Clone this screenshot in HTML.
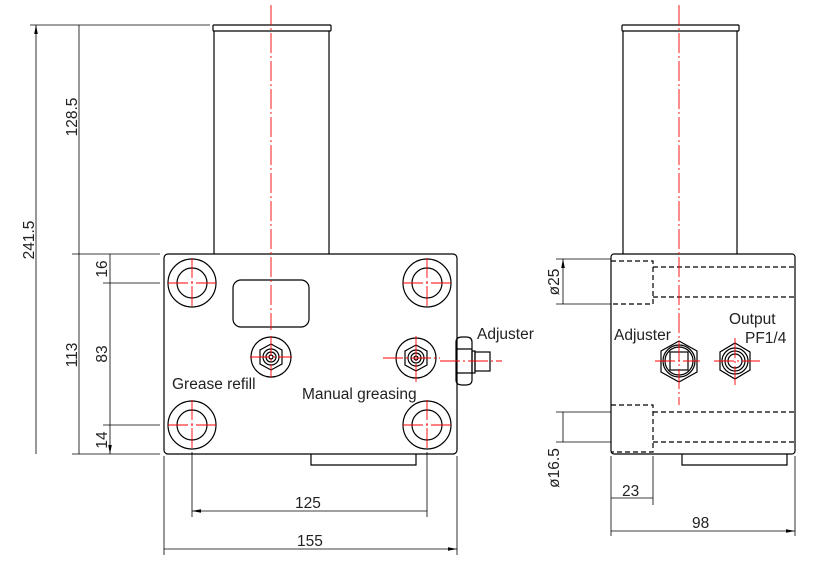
<!DOCTYPE html><html><head><style>body{margin:0;background:#fff}svg{display:block}text{font-family:"Liberation Sans",sans-serif;fill:#222}</style></head><body>
<svg width="820" height="578" viewBox="0 0 820 578" xmlns="http://www.w3.org/2000/svg">
<defs><marker id="a" viewBox="0 0 10 10" refX="10" refY="5" markerUnits="userSpaceOnUse" markerWidth="9" markerHeight="9" orient="auto-start-reverse"><path d="M0,3L10,5L0,7z" fill="#000"/></marker></defs>
<g stroke="#000" stroke-width="1.2" fill="none">
<rect x="213" y="25" width="118" height="6" rx="1"/>
<path d="M214,31V254M329,31V254"/>
<rect x="164" y="254" width="293" height="200" rx="4"/>
<rect x="233" y="280" width="76" height="47" rx="8"/>
<path d="M311,454V465H416V454"/>
<g id="h"><circle cx="192" cy="283" r="24"/><circle cx="192" cy="283" r="15"/></g>
<use href="#h" x="235"/><use href="#h" y="142"/><use href="#h" x="235" y="142"/>
<circle cx="271" cy="357" r="20"/><polygon points="271,344 282,350 282,364 271,370 260,364 260,350"/><circle cx="271" cy="357" r="8"/><circle cx="271" cy="357" r="5"/><circle cx="271" cy="357" r="2"/>
<circle cx="416" cy="358" r="20"/><polygon points="416,345 427,351 427,365 416,371 405,365 405,351"/><circle cx="416" cy="358" r="8"/><circle cx="416" cy="358" r="5"/><circle cx="416" cy="358" r="2"/>
<path d="M456,342Q456,337 462,337H466Q472,337 472,342V380Q472,385 466,385H462Q456,385 456,380Z M456,349H472M456,373H472"/>
<rect x="472" y="351" width="3" height="22"/><rect x="475" y="352" width="15" height="19"/>
<g stroke-width="0.8">
<path d="M30,25H210M72,254H160M103,283H160M103,425H160M72,454H160"/>
<path d="M36,25V454M79,25V254M79,254V454M110,254V283M110,283V425M110,425V454" marker-start="url(#a)" marker-end="url(#a)"/>
<path d="M192,452V517M427,452V517M164,456V555M457,456V555"/>
<path d="M192,511H427M164,549H457" marker-start="url(#a)" marker-end="url(#a)"/>
</g>
<rect x="622" y="25" width="117" height="6" rx="1"/>
<path d="M623,31V254M737,31V254"/>
<rect x="611" y="254" width="184" height="200" rx="3"/>
<path d="M682,454V465H787V454"/>
<g stroke-dasharray="5,3">
<path d="M611,261H653V304H611M653,267H795M653,297H795M611,405H653V452H611M653,412H795M653,442H795"/>
</g>
<polygon points="679,341 697,351 697,372 679,382 661,372 661,351"/><circle cx="679" cy="361" r="16"/><circle cx="679" cy="361" r="14"/><rect x="670" y="352" width="18" height="18"/>
<polygon points="735,343 750,352 750,370 735,379 720,370 720,352"/><circle cx="735" cy="361" r="13"/><circle cx="735" cy="361" r="10"/><circle cx="735" cy="361" r="7"/>
<g stroke-width="0.8">
<path d="M556,259H611M556,304H611M556,412H611M556,442H611M611,456V536M653,456V505M795,456V536"/>
<path d="M563,259V304M563,412V442M611,498H653M611,531H795" marker-start="url(#a)" marker-end="url(#a)"/>
</g>
</g>
<g stroke="#f00" stroke-width="0.9" fill="none" stroke-dasharray="20,3,2,3">
<path d="M271,5V330M679,5V405"/>
<path d="M168,283H216M192,258V308M403,283H451M427,258V308M168,425H216M192,400V450M403,425H451M427,400V450"/>
<path d="M250,357H292M271,336V378M383,358H440M416,336V382M440,361H502"/>
<path d="M655,361H700M714,361H760M735,338V385"/>
</g>
<g font-size="15.5">
<text x="172" y="389">Grease refill</text>
<text x="302" y="399">Manual greasing</text>
<text x="477" y="339">Adjuster</text>
<text x="614" y="340">Adjuster</text>
<text x="729" y="324">Output</text>
<text x="745" y="343">PF1/4</text>
<text x="295" y="508">125</text>
<text x="297" y="546">155</text>
<text x="622" y="496">23</text>
<text x="692" y="528">98</text>
<text transform="translate(34,240) rotate(-90)" text-anchor="middle">241.5</text>
<text transform="translate(77,117) rotate(-90)" text-anchor="middle">128.5</text>
<text transform="translate(77,355) rotate(-90)" text-anchor="middle">113</text>
<text transform="translate(107,269) rotate(-90)" text-anchor="middle">16</text>
<text transform="translate(107,354) rotate(-90)" text-anchor="middle">83</text>
<text transform="translate(107,440) rotate(-90)" text-anchor="middle">14</text>
<text transform="translate(559,282) rotate(-90)" text-anchor="middle">ø25</text>
<text transform="translate(559,468) rotate(-90)" text-anchor="middle">ø16.5</text>
</g>
</svg></body></html>
